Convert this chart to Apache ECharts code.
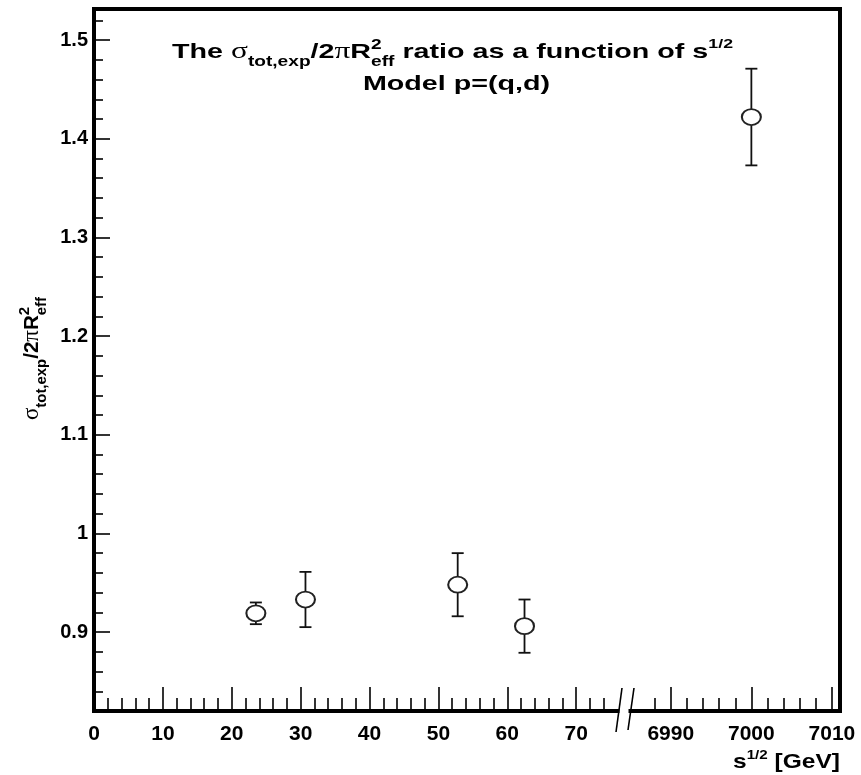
<!DOCTYPE html>
<html>
<head>
<meta charset="utf-8">
<script src="https://cdn.jsdelivr.net/npm/echarts@6/dist/echarts.min.js"></script>
<style>
  html, body { margin: 0; padding: 0; background: #fff; }
  #chart { width: 861px; height: 775px; }
</style>
</head>
<body>
<div id="chart"></div>
<script>
// ISR energies (GeV) and the measured ratio with its error
const sqrtsLow = [23.5, 30.7, 52.8, 62.5];
const ratioLow = [0.919, 0.933, 0.948, 0.906];
const errLow = [0.011, 0.028, 0.032, 0.027];

// LHC energy (GeV)
const sqrtsHigh = [7000];
const ratioHigh = [1.422];
const errHigh = [0.049];

// Tick positions
const yMajorTicks = [0.9, 1.0, 1.1, 1.2, 1.3, 1.4, 1.5];
const yMinorTicks = [0.84, 0.86, 0.88, 0.92, 0.94, 0.96, 0.98, 1.02, 1.04, 1.06, 1.08,
  1.12, 1.14, 1.16, 1.18, 1.22, 1.24, 1.26, 1.28, 1.32, 1.34, 1.36, 1.38,
  1.42, 1.44, 1.46, 1.48, 1.52];
const xLowMajorTicks = [0, 10, 20, 30, 40, 50, 60, 70];
const xLowMinorTicks = [2, 4, 6, 8, 12, 14, 16, 18, 22, 24, 26, 28, 32, 34, 36, 38,
  42, 44, 46, 48, 52, 54, 56, 58, 62, 64, 66, 68, 72, 74];
const xHighMajorTicks = [6990, 7000, 7010];
const xHighMinorTicks = [6988, 6992, 6994, 6996, 6998, 7002, 7004, 7006, 7008];

const Y_MIN = 0.82, Y_MAX = 1.5315;
const SANS = '"Liberation Sans", Arial, Helvetica, sans-serif';
const SERIF = '"Liberation Serif", "Times New Roman", serif';
const INK = '#000';

const chart = echarts.init(document.getElementById('chart'), null, { renderer: 'canvas' });

// ---- small text layout helper for sub/superscripts ----
const measure = document.createElement('canvas').getContext('2d');
function fontOf(p) { return (p.w || 'bold') + ' ' + p.s + 'px ' + (p.f || SANS); }
function layoutRun(pieces) {
  let x = 0, anchor = 0;
  const kids = [];
  pieces.forEach(function (p) {
    const font = fontOf(p);
    measure.font = font;
    const w = measure.measureText(p.t).width;
    const x0 = p.stack ? anchor : x;
    kids.push({
      type: 'text', silent: true, x: x0, y: -(p.r || 0) - 0.35 * p.s,
      style: { text: p.t, font: font, fill: INK, align: 'left', verticalAlign: 'middle' }
    });
    anchor = x0;
    x = Math.max(x, x0 + w);
  });
  return { kids: kids, width: x };
}

// Title
const title1 = layoutRun([
  { t: 'The ', s: 21 },
  { t: 'σ', s: 23, w: 'normal', f: SERIF },
  { t: 'tot,exp', s: 14, r: -7 },
  { t: '/2', s: 21 },
  { t: 'π', s: 23, w: 'normal', f: SERIF },
  { t: 'R', s: 21 },
  { t: '2', s: 14, r: 10 },
  { t: 'eff', s: 14, r: -7, stack: true },
  { t: ' ratio as a function of s', s: 21 },
  { t: '1/2', s: 13, r: 11 }
]);
const titleScale = (733 - 172) / title1.width;
const title2 = layoutRun([{ t: 'Model p=(q,d)', s: 21 }]);

// Y axis name (rotated)
const yName = layoutRun([
  { t: 'σ', s: 20, w: 'normal', f: SERIF },
  { t: 'tot,exp', s: 13, r: -6 },
  { t: '/2', s: 18 },
  { t: 'π', s: 20, w: 'normal', f: SERIF },
  { t: 'R', s: 18 },
  { t: '2', s: 13, r: 9 },
  { t: 'eff', s: 13, r: -6, stack: true }
]);
const yNameScale = (420 - 297) / yName.width;

// X axis name
const xName = layoutRun([
  { t: 's', s: 21 },
  { t: '1/2', s: 13, r: 10 },
  { t: ' [GeV]', s: 21 }
]);
const xNameScale = (840 - 733) / xName.width;

// ---- series data ----
const lowPoints = sqrtsLow.map(function (x, i) { return [x, ratioLow[i]]; });
const lowBars = sqrtsLow.map(function (x, i) { return [x, ratioLow[i] - errLow[i], ratioLow[i] + errLow[i]]; });
const highPoints = sqrtsHigh.map(function (x, i) { return [x, ratioHigh[i]]; });
const highBars = sqrtsHigh.map(function (x, i) { return [x, ratioHigh[i] - errHigh[i], ratioHigh[i] + errHigh[i]]; });

function errorBar(params, api) {
  const x = api.value(0);
  const top = api.coord([x, api.value(2)]);
  const bot = api.coord([x, api.value(1)]);
  const cap = 6;
  const st = { stroke: '#111', lineWidth: 1.8 };
  return {
    type: 'group',
    children: [
      { type: 'line', shape: { x1: top[0], y1: top[1], x2: bot[0], y2: bot[1] }, style: st },
      { type: 'line', shape: { x1: top[0] - cap, y1: top[1], x2: top[0] + cap, y2: top[1] }, style: st },
      { type: 'line', shape: { x1: bot[0] - cap, y1: bot[1], x2: bot[0] + cap, y2: bot[1] }, style: st }
    ]
  };
}

const frameLine = { color: INK, width: 4, cap: 'square' };
const tickStyle = { color: INK, width: 1.6 };
const tickLabel = { color: INK, fontFamily: SANS, fontWeight: 'bold', fontSize: 21 };
const plainNumber = function (v) { return String(v); };

function xAxisPair(gridIndex, min, max, majors, minors) {
  return [
    {
      type: 'value', gridIndex: gridIndex, position: 'bottom', min: min, max: max,
      axisLine: { show: true, onZero: false, lineStyle: frameLine },
      axisTick: { show: true, inside: true, length: 24, lineStyle: tickStyle, customValues: majors },
      axisLabel: { show: true, margin: 13, customValues: majors, ...tickLabel,
        formatter: plainNumber, showMinLabel: true, showMaxLabel: true },
      splitLine: { show: false }
    },
    {
      type: 'value', gridIndex: gridIndex, position: 'bottom', min: min, max: max,
      axisLine: { show: false, onZero: false },
      axisTick: { show: true, inside: true, length: 13, lineStyle: tickStyle, customValues: minors },
      axisLabel: { show: false },
      splitLine: { show: false }
    }
  ];
}

const markerStyle = { color: '#fff', borderColor: '#222', borderWidth: 1.9, opacity: 1 };

const option = {
  animation: false,
  backgroundColor: '#fff',
  grid: [
    { left: 94, top: 9, width: 523.5, height: 702, outerBoundsMode: 'none' },
    { left: 630.5, top: 9, width: 209.5, height: 702, outerBoundsMode: 'none' }
  ],
  xAxis: []
    .concat(xAxisPair(0, 0, 76, xLowMajorTicks, xLowMinorTicks))
    .concat(xAxisPair(1, 6985, 7011, xHighMajorTicks, xHighMinorTicks)),
  yAxis: [
    {
      type: 'value', gridIndex: 0, position: 'left', min: Y_MIN, max: Y_MAX,
      axisLine: { show: true, onZero: false, lineStyle: frameLine },
      axisTick: { show: true, inside: true, length: 16, lineStyle: tickStyle, customValues: yMajorTicks },
      axisLabel: { show: true, margin: 6, customValues: yMajorTicks, ...tickLabel, fontSize: 20,
        formatter: function (v) { return String(Math.round(v * 10) / 10); } },
      splitLine: { show: false }
    },
    {
      type: 'value', gridIndex: 0, position: 'left', min: Y_MIN, max: Y_MAX,
      axisLine: { show: false, onZero: false },
      axisTick: { show: true, inside: true, length: 9, lineStyle: tickStyle, customValues: yMinorTicks },
      axisLabel: { show: false },
      splitLine: { show: false }
    },
    {
      type: 'value', gridIndex: 1, position: 'right', min: Y_MIN, max: Y_MAX,
      axisLine: { show: true, onZero: false, lineStyle: frameLine },
      axisTick: { show: false },
      axisLabel: { show: false },
      splitLine: { show: false }
    }
  ],
  series: [
    {
      type: 'custom', xAxisIndex: 0, yAxisIndex: 0, renderItem: errorBar,
      data: lowBars, encode: { x: 0, y: [1, 2] }, z: 2
    },
    {
      type: 'scatter', xAxisIndex: 0, yAxisIndex: 0, data: lowPoints,
      symbol: 'circle', symbolSize: [19, 16], itemStyle: markerStyle, z: 3
    },
    {
      type: 'custom', xAxisIndex: 2, yAxisIndex: 2, renderItem: errorBar,
      data: highBars, encode: { x: 0, y: [1, 2] }, z: 2
    },
    {
      type: 'scatter', xAxisIndex: 2, yAxisIndex: 2, data: highPoints,
      symbol: 'circle', symbolSize: [19, 16], itemStyle: markerStyle, z: 3
    }
  ],
  graphic: [
    // top edge of the frame
    { type: 'line', silent: true, shape: { x1: 94, y1: 9, x2: 840, y2: 9 },
      style: { stroke: INK, lineWidth: 4, lineCap: 'square' } },
    // axis break marks
    { type: 'line', silent: true, shape: { x1: 616, y1: 732, x2: 622, y2: 688 },
      style: { stroke: INK, lineWidth: 1.6 } },
    { type: 'line', silent: true, shape: { x1: 628, y1: 730, x2: 634, y2: 688 },
      style: { stroke: INK, lineWidth: 1.6 } },
    // titles and axis names
    { type: 'group', x: 172, y: 60, scaleX: titleScale, children: title1.kids },
    { type: 'group', x: 456.5 - title2.width * titleScale / 2, y: 92, scaleX: titleScale, children: title2.kids },
    { type: 'group', x: 40, y: 420, rotation: Math.PI / 2, scaleX: yNameScale, scaleY: 1.15, children: yName.kids },
    { type: 'group', x: 733, y: 770, scaleX: xNameScale, children: xName.kids }
  ]
};

chart.setOption(option);
</script>
</body>
</html>
